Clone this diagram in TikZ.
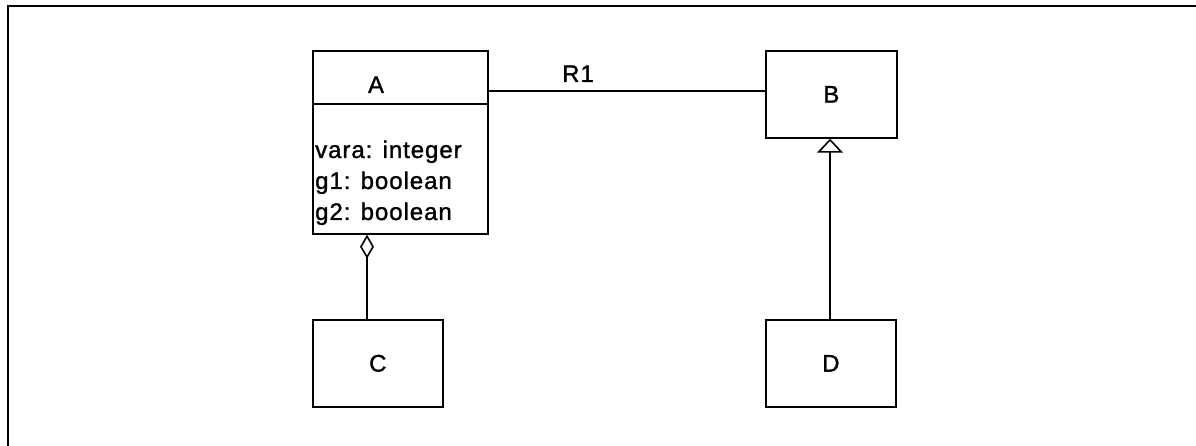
\documentclass[tikz,border=0pt]{standalone}
\usepackage{fontspec}
\setmainfont{Liberation Sans}[LetterSpace=4, FakeBold=1.2]
\usetikzlibrary{arrows.meta,positioning}
\tikzset{
  every node/.style={font=\fontsize{24}{31}\selectfont},
  frame/.style={line width=2pt},
  box/.style={rectangle, draw=black, line width=1.7pt, inner sep=0pt,
    anchor=north west},
  conn/.style={line width=1.7pt},
  aggregation/.style={conn, -{Diamond[open, length=24pt, width=14pt, line width=1.6pt]}},
  generalization/.style={conn, -{Triangle[open, length=14pt, width=26pt, line width=1.6pt]}}
}

\begin{document}
\begin{tikzpicture}[x=1pt, y=-1pt, line cap=butt, line join=miter]
  \useasboundingbox (0,0) rectangle (1196,446);
  \draw[frame] (1196,6) -- (8,6) -- (8,446);

  % classes
  \node[box, minimum width=175pt, minimum height=53pt] (Ahead) at (312,50) {};
  \node[box, minimum width=175pt, minimum height=130pt] (Aattr) at (312,103) {};
  \node[box, minimum width=131pt, minimum height=87pt] (B) at (765,50) {B};
  \node[box, minimum width=130pt, minimum height=87pt] (C) at (312,319) {C};
  \node[box, minimum width=130pt, minimum height=87pt] (D) at (765,319) {D};
  \node[anchor=base] (Alabel) at (376,93) {A};
  \node[anchor=base west, align=left, inner sep=0pt] (Avars) at (315,220)
    {vara: integer\\g1: boolean\\g2: boolean};

  % relations
  \coordinate (aggx) at (367,0);
  \coordinate (genx) at (830,0);
  \coordinate (assocy) at (0,91);
  \draw[conn] (Ahead.east |- assocy) -- (B.west |- assocy);
  \node[anchor=base] (R1) at (578,82) {R1};
  \draw[aggregation] (C.north -| aggx) -- (Aattr.south -| aggx);
  \draw[generalization] (D.north -| genx) -- (B.south -| genx);
\end{tikzpicture}
\end{document}
